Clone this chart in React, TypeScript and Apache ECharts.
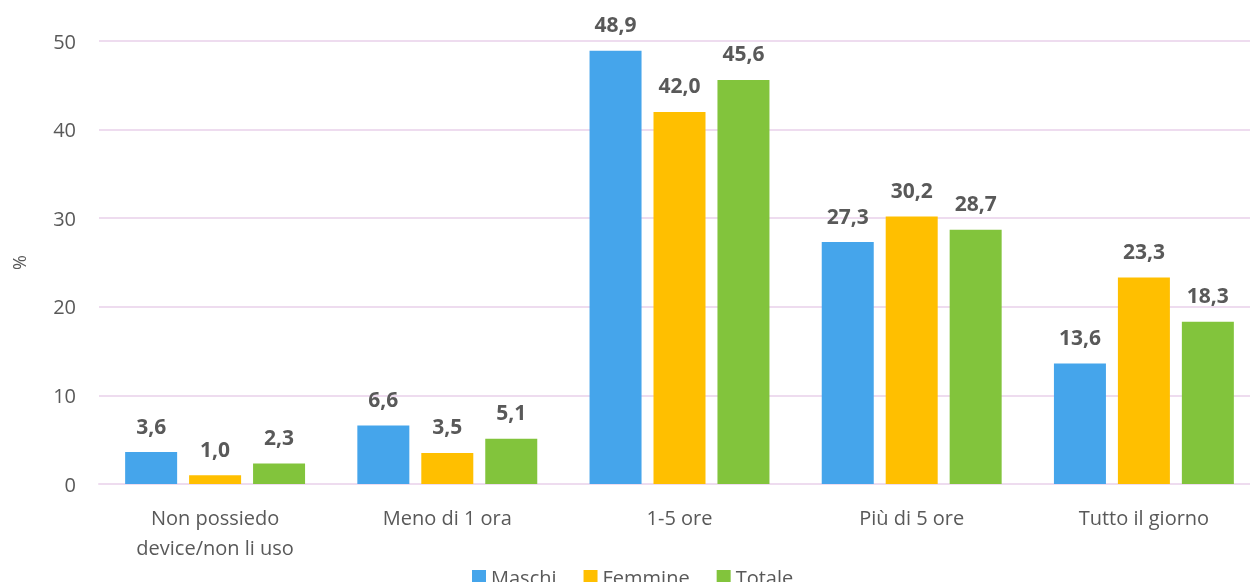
import React, { useEffect, useRef } from "react";
import * as echarts from "echarts";

const categories = ["Non possiedo\ndevice/non li uso", "Meno di 1 ora", "1-5 ore", "Più di 5 ore", "Tutto il giorno"];
const maschi = [3.6, 6.6, 48.9, 27.3, 13.6];
const femmine = [1.0, 3.5, 42.0, 30.2, 23.3];
const totale = [2.3, 5.1, 45.6, 28.7, 18.3];
const yTicks = [0, 10, 20, 30, 40, 50];

const FONT = "'Open Sans', 'Noto Sans', sans-serif";
const TXT = "#595959";

export default function App() {
  const ref = useRef<HTMLDivElement>(null);
  useEffect(() => {
    const chart = echarts.init(ref.current!, undefined, { renderer: "svg" });
    const label = {
      show: true,
      position: "top" as const,
      distance: 16,
      fontFamily: FONT,
      fontWeight: "bold" as const,
      fontSize: 21,
      color: TXT,
      formatter: (p: any) => p.value.toFixed(1).replace(".", ","),
    };
    const mk = (name: string, data: number[], color: string) => ({
      name,
      type: "bar" as const,
      data,
      barWidth: 52,
      barGap: "23%",
      itemStyle: { color },
      label,
    });
    chart.setOption({
      animation: false,
      textStyle: { fontFamily: FONT },
      grid: { left: 99, right: -10, top: 41, height: 443, containLabel: false, outerBoundsMode: "none" },
      legend: {
        top: 562,
        left: 467,
        itemWidth: 14,
        itemHeight: 14,
        itemGap: 27,
        icon: "rect",
        textStyle: { fontFamily: FONT, fontSize: 20, color: TXT },
      },
      xAxis: {
        type: "category",
        data: categories,
        axisLine: { lineStyle: { color: "#eedcef", width: 2 } },
        axisTick: { show: false },
        axisLabel: { fontFamily: FONT, fontSize: 20, color: TXT, margin: 18, lineHeight: 30 },
      },
      yAxis: {
        type: "value",
        min: yTicks[0],
        max: yTicks[yTicks.length - 1],
        interval: 10,
        name: "%",
        nameLocation: "middle",
        nameGap: 71,
        nameRotate: 90,
        nameTextStyle: { fontFamily: FONT, fontSize: 18, color: TXT },
        axisLine: { show: false },
        axisTick: { show: false },
        axisLabel: { fontFamily: FONT, fontSize: 20, color: TXT, margin: 23 },
        splitLine: { lineStyle: { color: "#eedcef", width: 2 } },
      },
      series: [
        mk("Maschi", maschi, "#45a5eb"),
        mk("Femmine", femmine, "#ffbf00"),
        mk("Totale", totale, "#82c43c"),
      ],
    });
    return () => chart.dispose();
  }, []);
  return <div ref={ref} style={{ position: "fixed", left: 0, top: 0, width: 1250, height: 582 }} />;
}
